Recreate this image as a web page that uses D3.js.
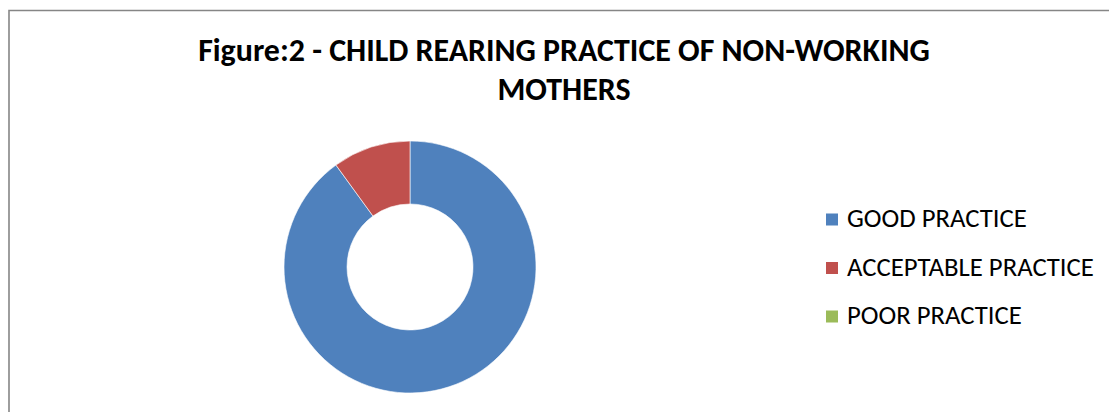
<!DOCTYPE html>
<html>
<head>
<meta charset="utf-8">
<script src="https://cdn.jsdelivr.net/npm/d3@7"></script>
<style>
  html, body { margin: 0; padding: 0; background: #fff; overflow: hidden; }
  svg { display: block; }
</style>
</head>
<body>
<svg id="chart" width="1109" height="412"></svg>
<script>
const categories = ["GOOD PRACTICE", "ACCEPTABLE PRACTICE", "POOR PRACTICE"];
const values = [90, 10, 0];
const colors = ["#4F81BD", "#C0504D", "#9BBB59"];
const titleLines = ["Figure:2 - CHILD REARING PRACTICE OF NON-WORKING", "MOTHERS"];

const svg = d3.select("#chart");

// chart border: only top and left edges are inside the picture
svg.append("path")
  .attr("d", "M9,412 L9,10.5 L1109,10.5")
  .attr("fill", "none")
  .attr("stroke", "#868686")
  .attr("stroke-width", 1.6);

const font = "Carlito, Lato, 'Liberation Sans', sans-serif";

// title, fitted to measured width
const title = svg.append("g");
const t1 = title.append("text")
  .attr("x", 564).attr("y", 61)
  .attr("text-anchor", "middle")
  .attr("font-family", font).attr("font-weight", "bold")
  .attr("font-size", 24).attr("fill", "#000")
  .text(titleLines[0]);
const w1 = t1.node().getComputedTextLength();
const titleSize = 24 * 732 / w1;
t1.attr("font-size", titleSize);
title.append("text")
  .attr("x", 564).attr("y", 99.5)
  .attr("text-anchor", "middle")
  .attr("font-family", font).attr("font-weight", "bold")
  .attr("font-size", titleSize).attr("fill", "#000")
  .text(titleLines[1]);

// donut
const cx = 410, cy = 267, rOuter = 126, rInner = 63;
const pie = d3.pie().sort(null).value(d => d.value).startAngle(0).endAngle(2 * Math.PI);
const arc = d3.arc().innerRadius(rInner).outerRadius(rOuter);
const data = categories.map((c, i) => ({ name: c, value: values[i], color: colors[i] }));

svg.append("g")
  .attr("transform", `translate(${cx},${cy})`)
  .selectAll("path")
  .data(pie(data).filter(d => d.data.value > 0))
  .join("path")
  .attr("d", arc)
  .attr("fill", d => d.data.color)
  .attr("stroke", "#fff")
  .attr("stroke-width", 0.6);

// legend
const legendY = d3.scalePoint().domain(categories).range([220, 317]);
const rows = svg.append("g").selectAll("g").data(data).join("g")
  .attr("transform", d => `translate(0,${legendY(d.name)})`);
rows.append("rect")
  .attr("x", 826).attr("y", -6.5)
  .attr("width", 12).attr("height", 12)
  .attr("fill", d => d.color);
const labels = rows.append("text")
  .attr("x", 847).attr("y", 7)
  .attr("font-family", font)
  .attr("font-size", 20)
  .attr("fill", "#000")
  .text(d => d.name);
const wAcc = labels.filter(d => d.name === "ACCEPTABLE PRACTICE").node().getComputedTextLength();
labels.attr("font-size", 20 * 247 / wAcc);
</script>
</body>
</html>
